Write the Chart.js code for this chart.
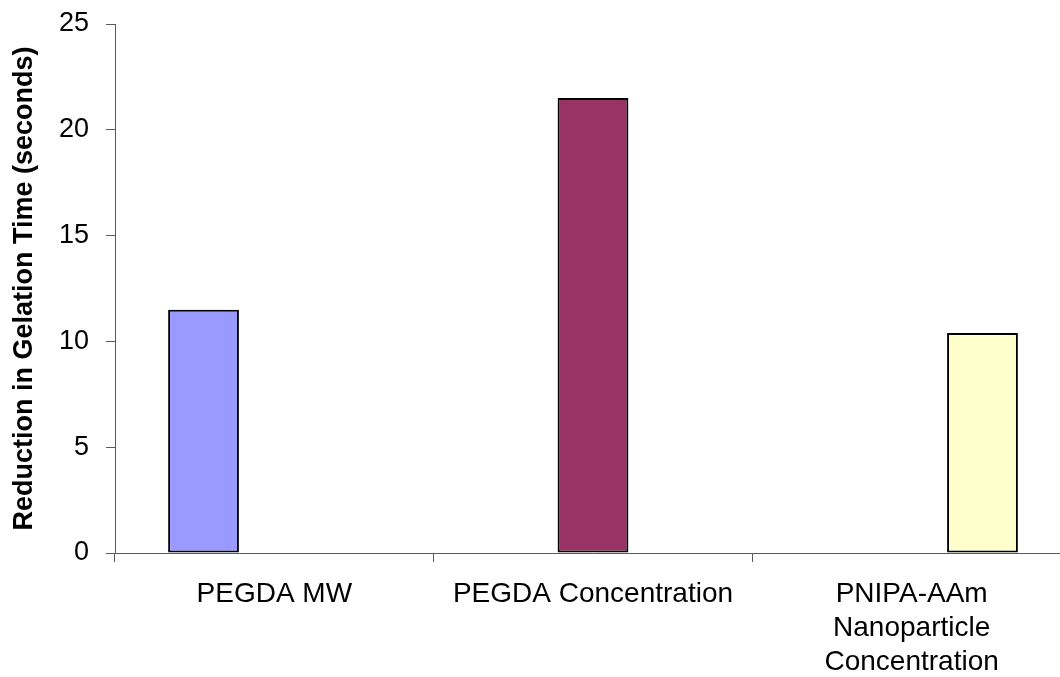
<!DOCTYPE html>
<html>
<head>
<meta charset="utf-8">
<script src="https://cdn.jsdelivr.net/npm/chart.js@4"></script>
<style>
  html, body { margin: 0; padding: 0; background: #fff; overflow: hidden; }
  #wrap { position: relative; width: 1072px; height: 677px; }
</style>
</head>
<body>
<div id="wrap"><canvas id="gelChart"></canvas></div>
<script>
const categories = ['PEGDA MW', 'PEGDA Concentration', ['PNIPA-AAm', 'Nanoparticle', 'Concentration']];
const reduction = [11.5, 21.5, 10.4];
const barColors = ['#9999FF', '#993366', '#FFFFCC'];
const yTicks = [0, 5, 10, 15, 20, 25];

const axisColor = '#5a5a5a';
const fontFamily = "'Liberation Sans', Arial, sans-serif";

// one dataset per category so each bar keeps its own slot in the group
const datasets = reduction.map((v, i) => ({
    label: 'series' + (i + 1),
    data: categories.map((_, j) => (j === i ? v : null)),
    backgroundColor: barColors[i],
    borderColor: '#000',
    borderWidth: 2,
    borderSkipped: false,
    barPercentage: 1,
    categoryPercentage: 3 / 4.5
}));

new Chart(document.getElementById('gelChart'), {
    type: 'bar',
    data: { labels: categories, datasets: datasets },
    options: {
        responsive: true,
        maintainAspectRatio: false,
        animation: false,
        layout: { padding: { top: 24, right: 1, bottom: 0, left: 0 } },
        plugins: {
            legend: { display: false },
            tooltip: { enabled: false }
        },
        scales: {
            x: {
                grid: {
                    display: true,
                    drawOnChartArea: false,
                    drawTicks: true,
                    tickLength: 9,
                    color: axisColor,
                    offset: true
                },
                border: { display: true, color: axisColor, width: 1 },
                ticks: {
                    color: '#000',
                    padding: 15,
                    maxRotation: 0,
                    autoSkip: false,
                    font: { family: fontFamily, size: 28, lineHeight: 1.22 }
                },
                afterFit(scale) {
                    scale.height = 124;
                    scale.paddingLeft = 0;
                    scale.paddingRight = 0;
                }
            },
            y: {
                min: 0,
                max: 25,
                afterBuildTicks(scale) { scale.ticks = yTicks.map(v => ({ value: v })); },
                grid: {
                    display: true,
                    drawOnChartArea: false,
                    drawTicks: true,
                    tickLength: 9,
                    color: axisColor
                },
                border: { display: true, color: axisColor, width: 1 },
                ticks: {
                    color: '#000',
                    padding: 17,
                    font: { family: fontFamily, size: 27 }
                },
                title: {
                    display: true,
                    text: 'Reduction in Gelation Time (seconds)',
                    color: '#000',
                    padding: { top: 8, bottom: 0 },
                    font: { family: fontFamily, size: 27, weight: 'bold', lineHeight: 1.2 }
                },
                afterFit(scale) {
                    scale.width = 115;
                    scale.paddingTop = 0;
                    scale.paddingBottom = 0;
                }
            }
        }
    }
});
</script>
</body>
</html>
